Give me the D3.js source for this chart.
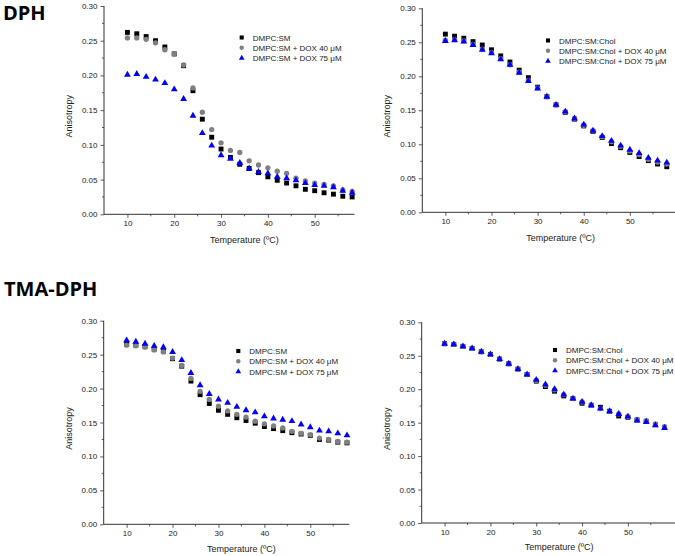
<!DOCTYPE html>
<html><head><meta charset="utf-8">
<script src="https://cdn.jsdelivr.net/npm/d3@7"></script>
<style>
body{margin:0;background:#fff;}
svg{display:block;}
text{font-family:"Liberation Sans",Arial,sans-serif;fill:#222;}
</style></head>
<body>
<svg id="chart" width="675" height="556"></svg>
<script>
const temps = [10,12,14,16,18,20,22,24,26,28,30,32,34,36,38,40,42,44,46,48,50,52,54,56,58];
const yTicks = [0.00,0.05,0.10,0.15,0.20,0.25,0.30];
const xTicks = [10,20,30,40,50];

const labelsSM = ["DMPC:SM","DMPC:SM + DOX 40 μM","DMPC:SM + DOX 75 μM"];
const labelsChol = ["DMPC:SM:Chol","DMPC:SM:Chol + DOX 40 μM","DMPC:SM:Chol + DOX 75 μM"];

// DPH, DMPC:SM
const dphSM      = [0.262,0.260,0.256,0.250,0.241,0.231,0.214,0.178,0.137,0.111,0.094,0.082,0.072,0.066,0.060,0.054,0.049,0.045,0.041,0.036,0.034,0.031,0.029,0.026,0.025];
const dphSM40    = [0.254,0.254,0.252,0.247,0.237,0.231,0.215,0.182,0.147,0.122,0.103,0.092,0.089,0.077,0.071,0.067,0.062,0.059,0.052,0.048,0.045,0.043,0.041,0.035,0.033];
const dphSM75    = [0.201,0.202,0.198,0.194,0.189,0.180,0.166,0.142,0.117,0.099,0.085,0.080,0.074,0.066,0.061,0.059,0.054,0.052,0.049,0.045,0.042,0.041,0.039,0.034,0.031];
// DPH, DMPC:SM:Chol
const dphChol    = [0.262,0.259,0.256,0.251,0.246,0.239,0.230,0.221,0.209,0.198,0.184,0.170,0.158,0.147,0.137,0.127,0.119,0.110,0.101,0.095,0.088,0.082,0.076,0.071,0.067];
const dphChol40  = [0.253,0.254,0.252,0.247,0.240,0.235,0.226,0.217,0.206,0.194,0.183,0.170,0.158,0.148,0.138,0.128,0.120,0.111,0.104,0.097,0.090,0.085,0.078,0.074,0.071];
const dphChol75  = [0.252,0.253,0.251,0.246,0.239,0.234,0.225,0.217,0.205,0.193,0.182,0.170,0.158,0.148,0.138,0.129,0.120,0.112,0.105,0.098,0.092,0.087,0.080,0.076,0.073];
// TMA-DPH, DMPC:SM
const tmaSM      = [0.265,0.264,0.262,0.258,0.255,0.244,0.233,0.211,0.191,0.178,0.168,0.162,0.157,0.153,0.149,0.144,0.141,0.138,0.135,0.133,0.131,0.125,0.124,0.121,0.120];
const tmaSM40    = [0.264,0.263,0.261,0.257,0.254,0.245,0.234,0.215,0.196,0.184,0.174,0.167,0.162,0.158,0.152,0.148,0.145,0.142,0.137,0.134,0.132,0.127,0.125,0.122,0.121];
const tmaSM75    = [0.271,0.269,0.266,0.263,0.261,0.254,0.242,0.223,0.205,0.192,0.184,0.179,0.173,0.168,0.165,0.159,0.156,0.154,0.152,0.147,0.143,0.138,0.137,0.134,0.131];
// TMA-DPH, DMPC:SM:Chol
const tmaChol    = [0.268,0.267,0.264,0.261,0.256,0.252,0.245,0.238,0.230,0.222,0.212,0.204,0.197,0.190,0.186,0.179,0.176,0.173,0.167,0.160,0.158,0.154,0.152,0.147,0.143];
const tmaChol40  = [0.268,0.267,0.264,0.261,0.256,0.252,0.245,0.238,0.230,0.222,0.213,0.206,0.199,0.192,0.186,0.181,0.176,0.171,0.167,0.163,0.159,0.155,0.153,0.148,0.144];
const tmaChol75  = [0.268,0.267,0.264,0.261,0.256,0.252,0.245,0.238,0.230,0.222,0.214,0.207,0.200,0.192,0.186,0.181,0.176,0.171,0.167,0.163,0.159,0.153,0.151,0.146,0.142];

const colors = ["#000000","#808080","#0000ff"];
const shapes = [d3.symbolSquare, d3.symbolCircle, d3.symbolTriangle];
const sizes = [24, 22, 20];

const svg = d3.select("#chart");

svg.append("text").attr("x",3).attr("y",20).text("DPH")
  .style("font-family","'Open Sans',sans-serif").style("font-weight","700").style("font-size","20px").style("fill","#000");
svg.append("text").attr("x",4).attr("y",296).text("TMA-DPH")
  .style("font-family","'Open Sans',sans-serif").style("font-weight","700").style("font-size","20px").style("fill","#000");

const panels = [
  {xr:[104,354.5], xd:[5,58.5], yr:[214.3,6], series:[dphSM,dphSM40,dphSM75], labels:labelsSM, leg:[241.7,37.5], titleY:243, ylabX:72},
  {xr:[422.3,676], xd:[5,60], yr:[212.3,8.3], series:[dphChol,dphChol40,dphChol75], labels:labelsChol, leg:[548,40.5], titleY:241, ylabX:390},
  {xr:[103.7,349.3], xd:[5,58.5], yr:[524.3,320.7], series:[tmaSM,tmaSM40,tmaSM75], labels:labelsSM, leg:[238.3,351], titleY:552, ylabX:72},
  {xr:[421.7,676], xd:[5,60.5], yr:[523,322.3], series:[tmaChol,tmaChol40,tmaChol75], labels:labelsChol, leg:[555,350], titleY:549.5, ylabX:390}
];

panels.forEach(p => {
  const x = d3.scaleLinear().domain(p.xd).range(p.xr);
  const y = d3.scaleLinear().domain([0,0.30]).range(p.yr);
  const g = svg.append("g");
  const y0 = y(0), x0 = x(p.xd[0]);

  // minor ticks
  const xMinor = d3.range(15, p.xd[1], 10);
  g.selectAll(null).data(xMinor).join("line")
    .attr("x1",d=>x(d)).attr("x2",d=>x(d)).attr("y1",y0).attr("y2",y0+2)
    .attr("stroke","#333").attr("stroke-width",0.8);
  const yMinor = [0.025,0.075,0.125,0.175,0.225,0.275];
  g.selectAll(null).data(yMinor).join("line")
    .attr("x1",x0).attr("x2",x0-2).attr("y1",d=>y(d)).attr("y2",d=>y(d))
    .attr("stroke","#333").attr("stroke-width",0.8);

  // axes
  const xAxis = d3.axisBottom(x).tickValues(xTicks).tickSize(3.5).tickPadding(3).tickFormat(d3.format("d"));
  const yAxis = d3.axisLeft(y).tickValues(yTicks).tickSize(3.5).tickPadding(3).tickFormat(d3.format(".2f"));
  const gx = g.append("g").attr("transform",`translate(0,${y0})`).call(xAxis);
  const gy = g.append("g").attr("transform",`translate(${x0},0)`).call(yAxis);
  [gx,gy].forEach(a=>{
    a.select(".domain").attr("stroke","#333").attr("stroke-width",1);
    a.selectAll(".tick line").attr("stroke","#333").attr("stroke-width",0.8);
    a.selectAll(".tick text").style("font-size","8px").style("font-family","'Liberation Sans',Arial,sans-serif").attr("fill","#222");
  });
  gx.select(".domain").attr("d",`M${p.xr[0]},0H${p.xr[1]}`);
  gy.select(".domain").attr("d",`M0,${p.yr[0]}V${p.yr[1]}`);

  // axis titles
  g.append("text").attr("x",x(35)).attr("y",p.titleY).attr("text-anchor","middle")
    .style("font-size","9px").text("Temperature (ºC)");
  g.append("text").attr("transform",`translate(${p.ylabX},${(p.yr[0]+p.yr[1])/2+6}) rotate(-90)`)
    .attr("text-anchor","middle").style("font-size","9px").text("Anisotropy");

  // points
  p.series.forEach((s,i)=>{
    g.append("g").selectAll("path").data(temps.map((t,k)=>[t,s[k]])).join("path")
      .attr("transform",d=>`translate(${x(d[0])},${y(d[1])})`)
      .attr("d",d3.symbol().type(shapes[i]).size(sizes[i]))
      .attr("fill",colors[i]);
  });

  // legend
  const lg = g.append("g").attr("transform",`translate(${p.leg[0]},${p.leg[1]})`);
  p.labels.forEach((lab,i)=>{
    const row = lg.append("g").attr("transform",`translate(0,${i*10.3})`);
    row.append("path").attr("d",d3.symbol().type(shapes[i]).size(sizes[i]*0.7)).attr("fill",colors[i]);
    row.append("text").attr("x",11).attr("y",3).style("font-size","8px").text(lab);
  });
});
</script>
</body></html>
